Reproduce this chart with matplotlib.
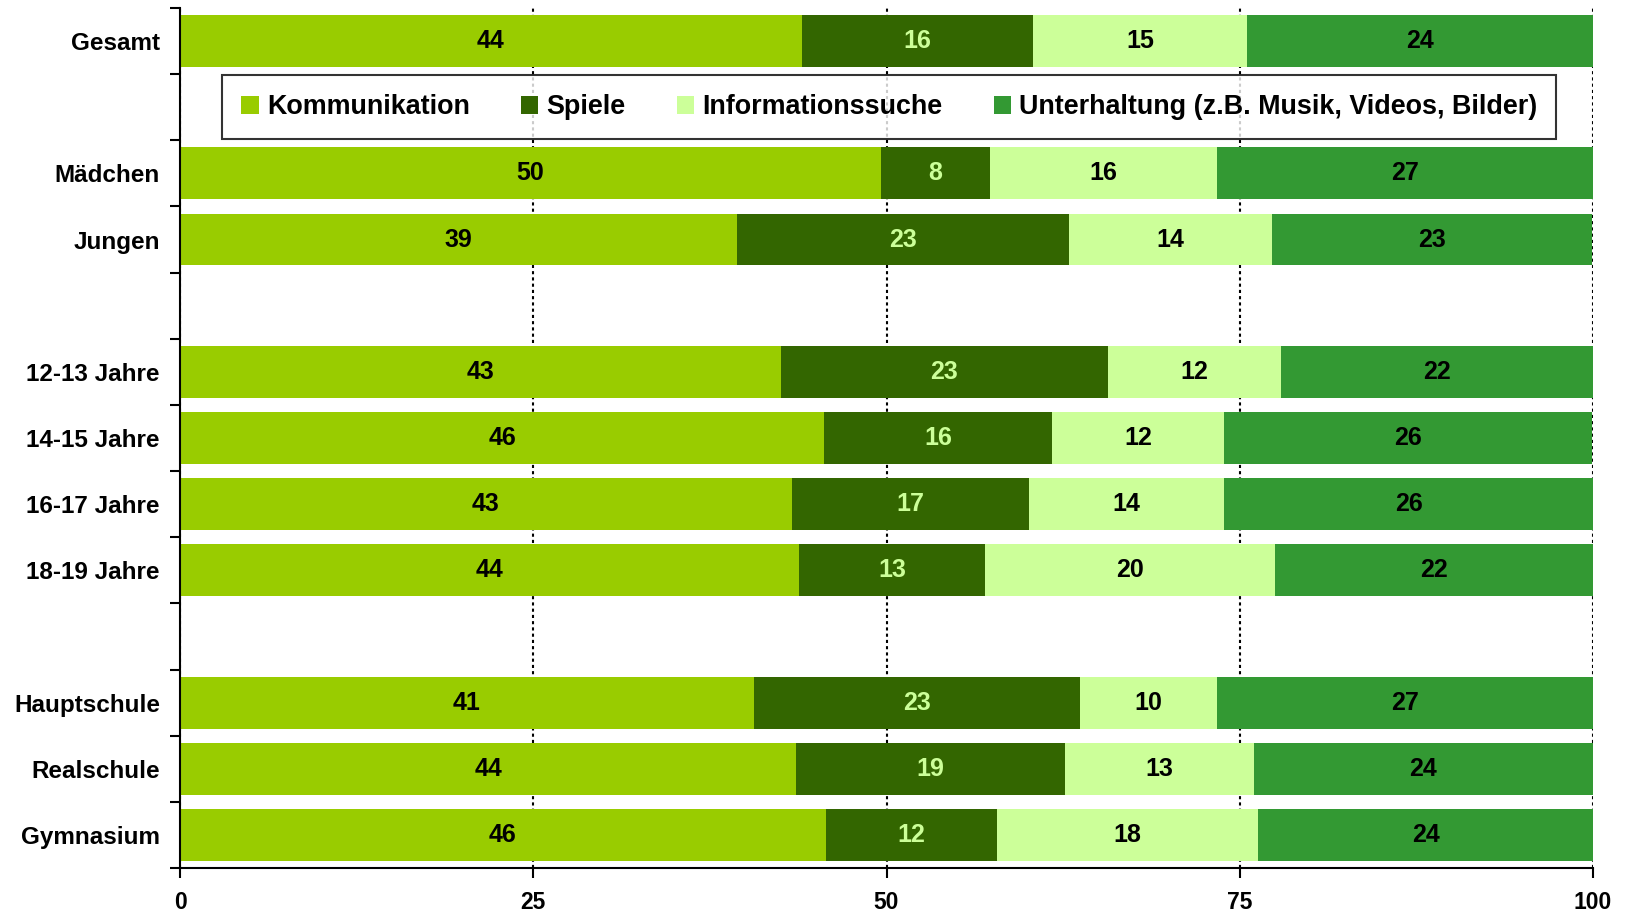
"""
Internet use of young people by purpose, stacked to 100 percent per group
"""
import matplotlib
matplotlib.use("Agg")
import matplotlib.pyplot as plt

# row labels, "" marks an empty slot (the first one holds the legend)
rows = ["Gesamt", "", "Mädchen", "Jungen", "", "12-13 Jahre", "14-15 Jahre",
        "16-17 Jahre", "18-19 Jahre", "", "Hauptschule", "Realschule", "Gymnasium"]
series = ["Kommunikation", "Spiele", "Informationssuche",
          "Unterhaltung (z.B. Musik, Videos, Bilder)"]
colors = ["#99CC00", "#336600", "#CCFF99", "#339933"]
text_colors = ["black", "#CCFF99", "black", "black"]

# segment shares per filled row
kommunikation = [44.0, 49.6, 39.4, 42.5, 45.6, 43.3, 43.8, 40.6, 43.6, 45.7]
spiele = [16.4, 7.7, 23.5, 23.2, 16.1, 16.8, 13.2, 23.1, 19.0, 12.1]
information = [15.1, 16.1, 14.4, 12.2, 12.2, 13.8, 20.5, 9.7, 13.4, 18.5]
unterhaltung = [24.5, 26.6, 22.6, 22.1, 26.0, 26.1, 22.5, 26.6, 24.0, 23.7]

# printed values
kommunikation_lbl = [44, 50, 39, 43, 46, 43, 44, 41, 44, 46]
spiele_lbl = [16, 8, 23, 23, 16, 17, 13, 23, 19, 12]
information_lbl = [15, 16, 14, 12, 12, 14, 20, 10, 13, 18]
unterhaltung_lbl = [24, 27, 23, 22, 26, 26, 22, 27, 24, 24]

xticks = [0, 25, 50, 75, 100]

plt.rcParams["font.family"] = ["Liberation Sans", "DejaVu Sans"]
plt.rcParams["font.weight"] = "bold"

fig = plt.figure(figsize=(16.28, 9.16), dpi=100)
ax = fig.add_axes([0.1106, 0.0524, 0.9785 - 0.1106, 0.9913 - 0.0524])

ypos = [i for i, r in enumerate(rows) if r]
values = [kommunikation, spiele, information, unterhaltung]
labels = [kommunikation_lbl, spiele_lbl, information_lbl, unterhaltung_lbl]

left = [0.0] * len(ypos)
for vals, lbls, col, tcol, name in zip(values, labels, colors, text_colors, series):
    bars = ax.barh(ypos, vals, left=left, height=0.785, color=col, label=name, zorder=2)
    for b, lbl in zip(bars, lbls):
        ax.text(b.get_x() + b.get_width() / 2, b.get_y() + b.get_height() / 2, str(lbl),
                ha="center", va="center", color=tcol, fontsize=18, fontweight="bold", zorder=3)
    left = [l + v for l, v in zip(left, vals)]

ax.set_xlim(0, 100)
ax.set_ylim(len(rows) - 0.5, -0.5)
ax.set_xticks(xticks)
ax.set_xticklabels([str(t) for t in xticks], fontsize=16.5, fontweight="bold")
ax.set_yticks(ypos)
ax.set_yticklabels([rows[i] for i in ypos], fontsize=17.5, fontweight="bold")
ax.set_yticks([i - 0.5 for i in range(len(rows) + 1)], minor=True)
ax.tick_params(axis="y", which="major", length=0, pad=14.5)
ax.tick_params(axis="y", which="minor", length=7, width=1.5, direction="out")
ax.tick_params(axis="x", length=7, width=1.5, direction="out", pad=9.5)

ax.xaxis.grid(True, color="black", linestyle=(0, (1.5, 1.5)), linewidth=1.5, zorder=0)
ax.set_axisbelow(True)
for s in ["top", "right"]:
    ax.spines[s].set_visible(False)
for s in ["left", "bottom"]:
    ax.spines[s].set_linewidth(1.5)
    ax.spines[s].set_zorder(4)

leg = ax.legend(loc="center", bbox_to_anchor=(0.502, 1 - 1.5 / len(rows)), ncol=4,
                frameon=True, fancybox=False, edgecolor="black",
                handlelength=0.65, handleheight=0.65, handletextpad=0.3, columnspacing=1.9,
                borderpad=0.7, prop={"size": 19.4, "weight": "bold"})
leg.get_frame().set_linewidth(1.5)
leg.set_zorder(5)

fig.savefig("out.png", dpi=100)
